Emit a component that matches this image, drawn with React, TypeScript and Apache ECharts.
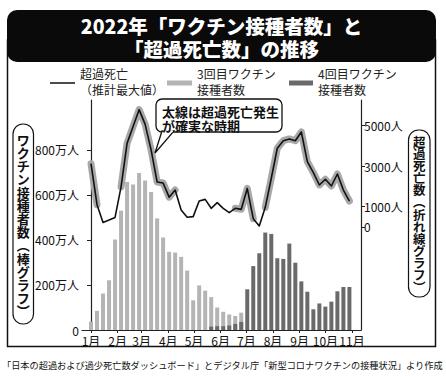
import React, { useEffect, useRef } from 'react';
import * as echarts from 'echarts';

const monthLabels = ['1月', '2月', '3月', '4月', '5月', '6月', '7月', '8月', '9月', '10月', '11月'];
const monthStartDays = [0, 31, 59, 90, 120, 151, 181, 212, 243, 273, 304];
const weekDays = [0, 7, 14, 21, 28, 35, 42, 49, 56, 63, 70, 77, 84, 91, 98, 105, 112, 119, 126, 133, 140, 147, 154, 161, 168, 175, 182, 189, 196, 203, 210, 217, 224, 231, 238, 245, 252, 259, 266, 273, 280, 287, 294, 301];
// 万人
const dose3 = [38, 85, 162, 221, 402, 530, 658, 647, 698, 664, 613, 496, 411, 347, 344, 325, 264, 132, 198, 175, 146, 100, 81, 69, 62, 77, null, null, null, null, null, null, null, null, null, null, null, null, null, null, null, null, null, null];
const dose4 = [null, null, null, null, null, null, null, null, null, null, null, null, null, null, null, null, null, null, null, null, 15, 17, 17, 20, 27, 36, 181, 284, 341, 433, 427, 319, 316, 384, 299, 216, 170, 92, 118, 104, 126, 172, 191, 191];
// 人
const excessDeaths = [3120, 1100, 220, 340, 470, 1980, 4120, 4950, 5780, 5070, 3800, 2220, 2170, 1470, 1820, 840, 480, 510, 1280, 1360, 920, 1200, 920, 710, 920, 870, 1900, 410, 50, 970, 2400, 3880, 4250, 4340, 4250, 4680, 3220, 2680, 2070, 2350, 2020, 2610, 1820, 1280];
const certainSegments = [[0, 1], [5, 14], [24, 27], [29, 43]];
const leftTicks = [0, 200, 400, 600, 800];
const rightTicks = [0, 1000, 3000, 5000];
const leftTitleChars = ['ワ', 'ク', 'チ', 'ン', '接', '種', '者', '数', '︵', '棒', 'グ', 'ラ', 'フ', '︶'];
const rightTitleChars = ['超', '過', '死', '亡', '数', '︵', '折', 'れ', '線', 'グ', 'ラ', 'フ', '︶'];

const FONT = '"Noto Sans CJK JP", "Noto Sans", sans-serif';

export default function App() {
  const ref = useRef<HTMLDivElement>(null);
  useEffect(() => {
    if (!ref.current) return;
    const chart = echarts.init(ref.current, null, { renderer: 'svg' });
    const inCertain = (i: number) => certainSegments.some(([a, b]) => i >= a && i <= b);
    const option: any = {
      animation: false,
      backgroundColor: '#fff',
      textStyle: { fontFamily: FONT },
      grid: { left: 82, right: 85, top: 100, bottom: 47 },
      xAxis: {
        type: 'value',
        min: -10.5,
        max: 314.5,
        axisLine: { show: true, lineStyle: { color: '#222', width: 1.2 } },
        axisTick: { show: true, customValues: monthStartDays, length: 3, lineStyle: { color: '#222' } },
        axisLabel: {
          customValues: monthStartDays,
          formatter: (v: number) => monthLabels[monthStartDays.indexOf(v)] ?? '',
          fontSize: 12,
          color: '#111',
          margin: 4,
          fontFamily: FONT,
        },
        splitLine: { show: false },
      },
      yAxis: [
        {
          type: 'value',
          min: 0,
          max: 1022,
          position: 'left',
          axisLine: { show: true, lineStyle: { color: '#222', width: 1.2 } },
          axisTick: { show: true, customValues: leftTicks, length: 4, lineStyle: { color: '#222' } },
          axisLabel: {
            customValues: leftTicks,
            formatter: (v: number) => (v === 0 ? '0' : v + '万人'),
            fontSize: 12,
            color: '#111',
            margin: 3,
            fontFamily: FONT,
          },
          splitLine: { show: false },
        },
        {
          type: 'value',
          min: -5074,
          max: 6256,
          position: 'right',
          axisLine: { show: true, lineStyle: { color: '#222', width: 1.2 } },
          axisTick: { show: true, customValues: rightTicks, length: 4, lineStyle: { color: '#222' } },
          axisLabel: {
            customValues: rightTicks,
            formatter: (v: number) => (v === 0 ? '0' : v + '人'),
            fontSize: 12,
            color: '#111',
            margin: 3,
            fontFamily: FONT,
          },
          splitLine: { show: false },
        },
      ],
      series: [
        {
          type: 'bar',
          name: '3回目ワクチン接種者数',
          yAxisIndex: 0,
          barWidth: 4,
          itemStyle: { color: '#b4b4b4' },
          data: weekDays.map((d, i) => [d, dose3[i]]),
          z: 2,
        },
        {
          type: 'bar',
          name: '4回目ワクチン接種者数',
          yAxisIndex: 0,
          barWidth: 4,
          barGap: '-100%',
          itemStyle: { color: '#6a6a6a' },
          data: weekDays.map((d, i) => [d, dose4[i]]),
          z: 3,
        },
        {
          type: 'line',
          name: '確実',
          yAxisIndex: 1,
          symbol: 'none',
          connectNulls: false,
          lineStyle: { color: '#a8a8a8', width: 7, cap: 'round', join: 'round' },
          data: weekDays.map((d, i) => [d, inCertain(i) ? excessDeaths[i] : null]),
          z: 4,
        },
        {
          type: 'line',
          name: '超過死亡',
          yAxisIndex: 1,
          symbol: 'none',
          lineStyle: { color: '#111', width: 1.6, join: 'round' },
          data: weekDays.map((d, i) => [d, excessDeaths[i]]),
          z: 5,
        },
      ],
      graphic: [
        {
          type: 'rect',
          shape: { x: 7.5, y: 40, width: 428, height: 306.5 },
          style: { fill: 'none', stroke: '#111', lineWidth: 1.5 },
          z: 1,
        },
        {
          type: 'rect',
          shape: { x: 7, y: 10, width: 429, height: 52, r: 10 },
          style: { fill: '#0a0a0a' },
          z: 10,
        },
        {
          type: 'text',
          x: 221.5,
          y: 25,
          style: { text: '2022年「ワクチン接種者数」と', fill: '#fff', font: `900 19.5px ${FONT}`, textAlign: 'center', textVerticalAlign: 'middle' },
          z: 11,
        },
        {
          type: 'text',
          x: 221.5,
          y: 48,
          style: { text: '「超過死亡数」の推移', fill: '#fff', font: `900 19.5px ${FONT}`, textAlign: 'center', textVerticalAlign: 'middle' },
          z: 11,
        },
        // legend
        { type: 'line', shape: { x1: 50, y1: 83, x2: 75, y2: 83 }, style: { stroke: '#111', lineWidth: 1.5 }, z: 10 },
        {
          type: 'text', x: 80, y: 65,
          style: { text: '超過死亡\n（推計最大値）', fill: '#222', font: `12px ${FONT}`, lineHeight: 16, textVerticalAlign: 'top' }, z: 10,
        },
        { type: 'line', shape: { x1: 167, y1: 83, x2: 192, y2: 83 }, style: { stroke: '#b4b4b4', lineWidth: 5 }, z: 10 },
        {
          type: 'text', x: 197, y: 65,
          style: { text: '3回目ワクチン\n接種者数', fill: '#222', font: `12px ${FONT}`, lineHeight: 16, textVerticalAlign: 'top' }, z: 10,
        },
        { type: 'line', shape: { x1: 289, y1: 83, x2: 313, y2: 83 }, style: { stroke: '#6a6a6a', lineWidth: 5 }, z: 10 },
        {
          type: 'text', x: 318, y: 65,
          style: { text: '4回目ワクチン\n接種者数', fill: '#222', font: `12px ${FONT}`, lineHeight: 16, textVerticalAlign: 'top' }, z: 10,
        },
        // callout
        {
          type: 'rect',
          shape: { x: 156, y: 99, width: 126, height: 33, r: 6 },
          style: { fill: '#fff', stroke: '#111', lineWidth: 1.3 },
          z: 20,
        },
        {
          type: 'polygon',
          shape: { points: [[162, 131], [174, 131], [155, 153]] },
          style: { fill: '#fff', stroke: '#111', lineWidth: 1.3 },
          z: 21,
        },
        {
          type: 'line',
          shape: { x1: 163.2, y1: 131.2, x2: 172.8, y2: 131.2 },
          style: { stroke: '#fff', lineWidth: 2 },
          z: 22,
        },
        {
          type: 'text', x: 162, y: 104.5,
          style: { text: '太線は超過死亡発生\nが確実な時期', fill: '#111', font: `bold 13px ${FONT}`, lineHeight: 14, textVerticalAlign: 'top' },
          z: 23,
        },
        // left vertical title
        {
          type: 'rect',
          shape: { x: 13, y: 124, width: 20.5, height: 200, r: 10 },
          style: { fill: '#fff', stroke: '#111', lineWidth: 1.2 },
          z: 10,
        },
        {
          type: 'text', x: 23.2, y: 225,
          style: {
            text: leftTitleChars.join('\n'),
            fill: '#111', font: `bold 13px ${FONT}`, lineHeight: 13.2,
            textAlign: 'center', textVerticalAlign: 'middle',
          },
          z: 11,
        },
        // right vertical title
        {
          type: 'rect',
          shape: { x: 408.5, y: 130, width: 21.5, height: 167, r: 10 },
          style: { fill: '#fff', stroke: '#111', lineWidth: 1.2 },
          z: 10,
        },
        {
          type: 'text', x: 419.2, y: 214,
          style: {
            text: rightTitleChars.join('\n'),
            fill: '#111', font: `bold 12.5px ${FONT}`, lineHeight: 12.1,
            textAlign: 'center', textVerticalAlign: 'middle',
          },
          z: 11,
        },
        // source
        {
          type: 'text', x: 2, y: 365,
          style: {
            text: '「日本の超過および過少死亡数ダッシュボード」とデジタル庁「新型コロナワクチンの接種状況」より作成',
            fill: '#111', font: `9.2px ${FONT}`, textVerticalAlign: 'middle',
          },
          z: 10,
        },
      ],
    };
    chart.setOption(option);
    return () => chart.dispose();
  }, []);
  return <div ref={ref} style={{ position: 'fixed', left: 0, top: 0, width: 446, height: 377 }} />;
}
